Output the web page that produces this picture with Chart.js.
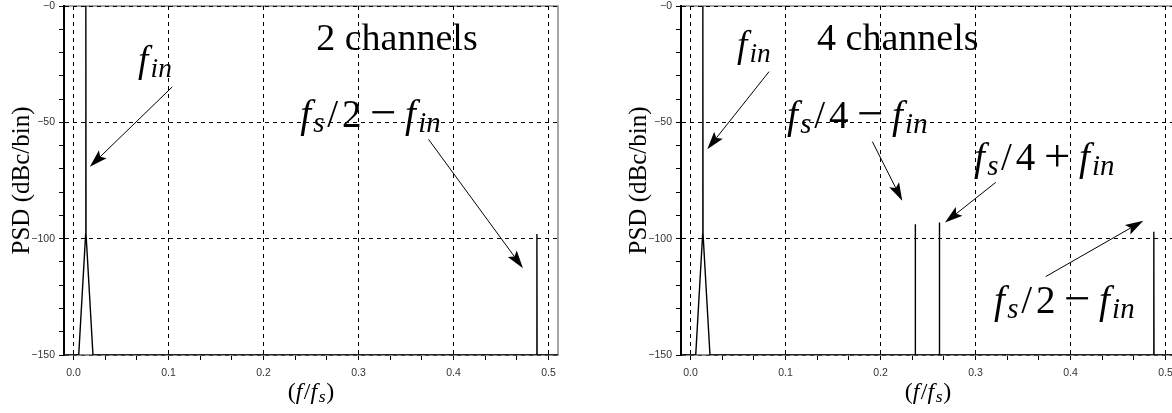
<!DOCTYPE html>
<html>
<head>
<meta charset="utf-8">
<script src="https://cdn.jsdelivr.net/npm/chart.js@4.4.1/dist/chart.umd.min.js"></script>
<style>
  body { margin: 0; background: #fff; overflow: hidden; width: 1172px; height: 413px; }
  canvas { position: absolute; top: 0; }
</style>
</head>
<body>
<canvas id="chartLeft" width="586" height="413" style="left:0"></canvas>
<canvas id="chartRight" width="600" height="413" style="left:586px"></canvas>
<script>
// spectrum, 2 channels
const freqLeft = [-0.01, 0.0055, 0.0128, 0.013, 0.0132, 0.0205, 0.4876, 0.4878, 0.488, 0.51];
const psdLeft  = [-150, -150, -98, 0, -98, -150, -150, -98, -150, -150];

// spectrum, 4 channels
const freqRight = [-0.01, 0.0055, 0.0128, 0.013, 0.0132, 0.0205,
                   0.2364, 0.2366, 0.2368, 0.2618, 0.262, 0.2622, 0.4875, 0.4877, 0.4879, 0.51];
const psdRight  = [-150, -150, -98, 0, -98, -150,
                   -150, -93.8, -150, -150, -93, -150, -150, -97, -150, -150];

// axis ticks
const xTicks = [0, 0.0333, 0.0667, 0.1, 0.1333, 0.1667, 0.2, 0.2333, 0.2667,
                0.3, 0.3333, 0.3667, 0.4, 0.4333, 0.4667, 0.5];
const xMajor = [0, 0.1, 0.2, 0.3, 0.4, 0.5];
const yMajor = [0, -50, -100, -150];

// annotations (data coords): text and arrows [x1, y1, x2, y2]
const labelsLeft = [
  { x: 0.068, y: -28.5, size: 37, parts: [['f', 'i'], ['in', 's']] },
  { x: 0.2555, y: -18.9, size: 38, parts: [['2 channels', 'r']] },
  { x: 0.2386, y: -52.0, size: 39, parts: [['f', 'i'], ['s', 's'], ['/', 'sl'], ['2', 'r'], ['−', 'o'], ['f', 'i'], ['in', 's']] }
];
const arrowsLeft = [
  [0.1039, -34.8, 0.0172, -69.1],
  [0.3737, -57.3, 0.4731, -112.7]
];
const labelsRight = [
  { x: 0.0489, y: -21.9, size: 37, parts: [['f', 'i'], ['in', 's']] },
  { x: 0.1332, y: -18.9, size: 38, parts: [['4 channels', 'r']] },
  { x: 0.1016, y: -52.4, size: 39, parts: [['f', 'i'], ['s', 's'], ['/', 'sl'], ['4', 'r'], ['−', 'o'], ['f', 'i'], ['in', 's']] },
  { x: 0.2984, y: -70.5, size: 39, parts: [['f', 'i'], ['s', 's'], ['/', 'sl'], ['4', 'r'], ['+', 'o'], ['f', 'i'], ['in', 's']] },
  { x: 0.3195, y: -131.9, size: 39, parts: [['f', 'i'], ['s', 's'], ['/', 'sl'], ['2', 'r'], ['−', 'o'], ['f', 'i'], ['in', 's']] }
];
const arrowsRight = [
  [0.0827, -28.2, 0.0177, -61.6],
  [0.1914, -58.3, 0.2229, -83.7],
  [0.3213, -75.8, 0.2679, -93.1],
  [0.3739, -116.3, 0.4766, -92.3]
];

const SERIF = '"Liberation Serif", "Times New Roman", serif';
const kinds = {
  i:  { scale: 1,    dy: 0,    italic: true,  pre: 0,    post: 0.06 },
  s:  { scale: 0.74, dy: 0.14, italic: true,  pre: 0,    post: 0.03 },
  r:  { scale: 1,    dy: 0,    italic: false, pre: 0,    post: 0 },
  sl: { scale: 1,    dy: 0,    italic: false, pre: 0.04, post: 0.1 },
  o:  { scale: 1.2,  dy: 0.03, italic: false, pre: 0.22, post: 0.22 }
};

// draws a small math expression; returns its width
function drawMath(ctx, x, y, parts, size, dry) {
  let cx = x;
  parts.forEach(([t, k]) => {
    const s = kinds[k];
    const fs = size * s.scale;
    ctx.font = (s.italic ? 'italic ' : '') + fs + 'px ' + SERIF;
    cx += s.pre * size;
    if (!dry) ctx.fillText(t, cx, y + s.dy * size);
    cx += ctx.measureText(t).width + s.post * size;
  });
  return cx - x;
}

function arrow(ctx, x1, y1, x2, y2) {
  const a = Math.atan2(y2 - y1, x2 - x1);
  const c = Math.cos(a), s = Math.sin(a);
  const L = 18, W = 5.5;
  ctx.beginPath();
  ctx.moveTo(x1, y1);
  ctx.lineTo(x2 - L * 0.8 * c, y2 - L * 0.8 * s);
  ctx.stroke();
  ctx.beginPath();
  ctx.moveTo(x2, y2);
  ctx.lineTo(x2 - L * c + W * s, y2 - L * s - W * c);
  ctx.lineTo(x2 - L * 0.8 * c, y2 - L * 0.8 * s);
  ctx.lineTo(x2 - L * c - W * s, y2 - L * s + W * c);
  ctx.closePath();
  ctx.fill();
}

const annot = {
  id: 'annot',
  beforeDraw(chart) {
    const { ctx, chartArea: a } = chart;
    ctx.save();
    ctx.strokeStyle = '#888';
    ctx.lineWidth = 1.5;
    ctx.strokeRect(a.left, a.top, a.right - a.left, a.bottom - a.top);
    ctx.restore();
  },
  afterDraw(chart, args, opts) {
    const { ctx, chartArea: a } = chart;
    const xs = chart.scales.x, ys = chart.scales.y;
    ctx.save();
    ctx.fillStyle = '#000';
    ctx.strokeStyle = '#000';
    ctx.lineWidth = 1;
    ctx.textBaseline = 'alphabetic';
    opts.arrows.forEach(([x1, y1, x2, y2]) => {
      arrow(ctx, xs.getPixelForValue(x1), ys.getPixelForValue(y1),
                 xs.getPixelForValue(x2), ys.getPixelForValue(y2));
    });
    opts.labels.forEach(l => {
      drawMath(ctx, xs.getPixelForValue(l.x), ys.getPixelForValue(l.y), l.parts, l.size);
    });
    // x axis title (f/f_s)
    const title = [['(', 'r'], ['f', 'i'], ['/', 'r'], ['f', 'i'], ['s', 's'], [')', 'r']];
    const w = drawMath(ctx, 0, 0, title, 24, true);
    drawMath(ctx, (a.left + a.right) / 2 - w / 2, 399, title, 24);
    ctx.restore();
  }
};

function makeChart(id, freq, psd, labels, arrows, padLeft, padRight) {
  const ctx = document.getElementById(id).getContext('2d');
  return new Chart(ctx, {
    type: 'line',
    data: {
      datasets: [{
        data: freq.map((f, i) => ({ x: f, y: psd[i] })),
        borderColor: '#000',
        borderWidth: 1.4,
        pointRadius: 0,
        tension: 0
      }]
    },
    options: {
      responsive: false,
      animation: false,
      devicePixelRatio: 1,
      layout: { padding: { left: padLeft, right: padRight, top: 6, bottom: 0 } },
      plugins: {
        legend: { display: false },
        tooltip: { enabled: false },
        annot: { labels: labels, arrows: arrows }
      },
      scales: {
        x: {
          type: 'linear',
          min: -0.01,
          max: 0.51,
          afterBuildTicks: scale => { scale.ticks = xTicks.map(v => ({ value: v })); },
          afterFit: scale => { scale.height = 58; scale.paddingLeft = 0; scale.paddingRight = 0; },
          ticks: {
            autoSkip: false,
            maxRotation: 0,
            padding: 7,
            color: '#333',
            font: { family: '"Liberation Sans", Arial, sans-serif', size: 10.5 },
            callback: v => xMajor.some(m => Math.abs(m - v) < 1e-6) ? v.toFixed(1) : ''
          },
          grid: {
            color: c => c.tick && xMajor.some(m => Math.abs(m - c.tick.value) < 1e-6) ? '#000' : 'rgba(0,0,0,0)',
            tickColor: '#000',
            tickLength: 5,
            lineWidth: 1
          },
          border: { display: true, color: '#888', width: 1.5, dash: [4, 4] }
        },
        y: {
          min: -150,
          max: 0,
          afterFit: scale => { scale.width = 64; scale.paddingTop = 0; scale.paddingBottom = 0; },
          ticks: {
            stepSize: 10,
            autoSkip: false,
            padding: 4,
            color: '#333',
            font: { family: '"Liberation Sans", Arial, sans-serif', size: 10.5 },
            callback: v => yMajor.includes(v) ? '−' + Math.abs(v) : ''
          },
          grid: {
            color: c => c.tick && yMajor.includes(c.tick.value) ? '#000' : 'rgba(0,0,0,0)',
            tickColor: '#000',
            tickLength: 5,
            lineWidth: 1
          },
          border: { display: true, color: '#000', width: 2, dash: [4, 4] },
          title: {
            display: true,
            text: 'PSD (dBc/bin)',
            color: '#000',
            font: { family: SERIF, size: 25 },
            padding: { top: 7, bottom: 0 }
          }
        }
      }
    },
    plugins: [annot]
  });
}

makeChart('chartLeft', freqLeft, psdLeft, labelsLeft, arrowsLeft, 0, 28);
makeChart('chartRight', freqRight, psdRight, labelsRight, arrowsRight, 31, 11);
</script>
</body>
</html>
